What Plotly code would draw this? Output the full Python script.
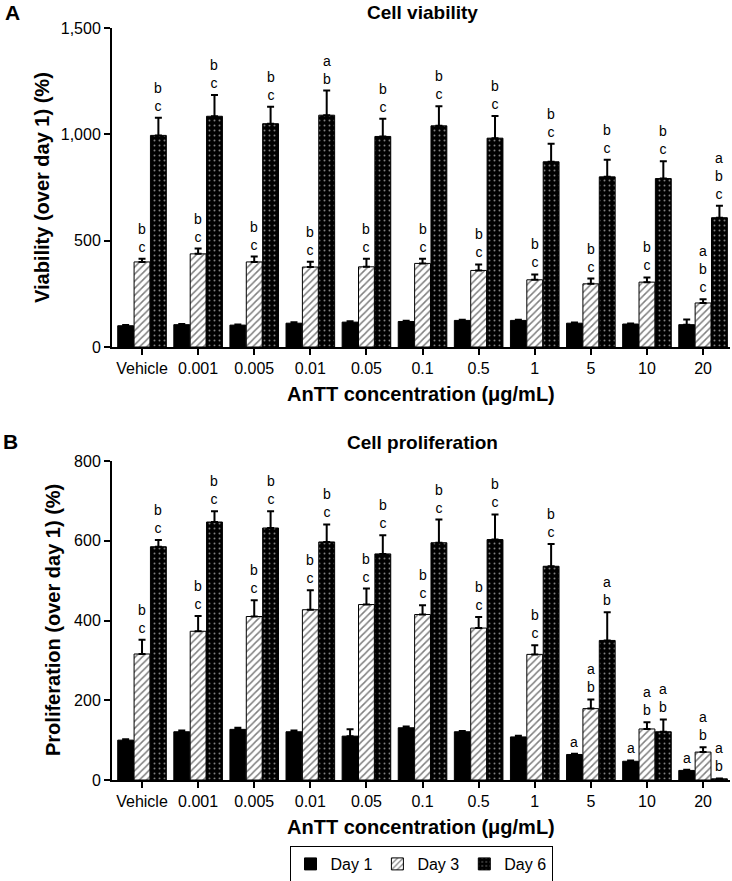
import plotly.graph_objects as go

categories = ["Vehicle", "0.001", "0.005", "0.01", "0.05", "0.1", "0.5", "1", "5", "10", "20"]
series_names = ["Day 1", "Day 3", "Day 6"]

# Panel A: Cell viability
via_day1 = [100, 105, 103, 112, 117, 120, 125, 125, 112, 108, 105]
via_day1_err = [3, 3, 3, 4, 4, 4, 3, 3, 3, 2, 24]
via_day3 = [400, 438, 400, 376, 377, 393, 360, 316, 297, 305, 207]
via_day3_err = [15, 25, 25, 25, 38, 22, 28, 25, 25, 22, 17]
via_day6 = [995, 1085, 1050, 1090, 990, 1040, 982, 871, 800, 792, 608]
via_day6_err = [83, 100, 80, 116, 83, 92, 104, 85, 80, 82, 56]
via_day1_lab = [""] * 11
via_day3_lab = ["b<br>c"] * 10 + ["a<br>b<br>c"]
via_day6_lab = ["b<br>c", "b<br>c", "b<br>c", "a<br>b", "b<br>c", "b<br>c",
                "b<br>c", "b<br>c", "b<br>c", "b<br>c", "a<br>b<br>c"]

# Panel B: Cell proliferation
pro_day1 = [100, 121, 127, 121, 110, 131, 121, 108, 64, 47, 24]
pro_day1_err = [2, 3, 4, 3, 17, 3, 2, 3, 2, 2, 2]
pro_day3 = [316, 373, 410, 427, 440, 415, 381, 315, 179, 128, 70]
pro_day3_err = [36, 38, 41, 49, 40, 23, 28, 23, 23, 17, 12]
pro_day6 = [585, 647, 632, 597, 567, 595, 603, 536, 350, 121, 3]
pro_day6_err = [17, 27, 42, 44, 47, 58, 63, 56, 71, 31, 1]
pro_day1_lab = [""] * 8 + ["a", "a", "a"]
pro_day3_lab = ["b<br>c"] * 8 + ["a<br>b"] * 3
pro_day6_lab = ["b<br>c"] * 8 + ["a<br>b"] * 3

via_ticks = [0, 500, 1000, 1500]
pro_ticks = [0, 200, 400, 600, 800]

FONT = "Liberation Sans, Arial, sans-serif"
W, H = 732, 881


def px_x(p):
    return p / W


def px_y(p):
    return (H - p) / H


PLOT_L, PLOT_R = 112, 730
BARGAP = 0.125
slot = (1 - BARGAP) / 3
offsets = [-slot, 0, slot]

styles = [
    dict(color="black", line=dict(color="black", width=1)),
    dict(color="white", line=dict(color="black", width=1),
         pattern=dict(shape="/", fgcolor="black", bgcolor="white", size=5, solidity=0.3, fillmode="overlay")),
    dict(color="black", line=dict(color="black", width=1),
         pattern=dict(shape=".", fgcolor="white", bgcolor="black", size=5, solidity=0.12, fillmode="overlay")),
]

fig = go.Figure()
annotations = []

panels = [
    ("x", "y", [via_day1, via_day3, via_day6], [via_day1_err, via_day3_err, via_day6_err],
     [via_day1_lab, via_day3_lab, via_day6_lab], True),
    ("x2", "y2", [pro_day1, pro_day3, pro_day6], [pro_day1_err, pro_day3_err, pro_day6_err],
     [pro_day1_lab, pro_day3_lab, pro_day6_lab], False),
]

for xa, ya, vals, errs, labs, showleg in panels:
    for k in range(3):
        fig.add_trace(go.Bar(
            x=categories, y=vals[k], name=series_names[k], xaxis=xa, yaxis=ya,
            marker=styles[k], showlegend=showleg, legendgroup=series_names[k],
            error_y=dict(type="data", array=errs[k], arrayminus=[0] * len(errs[k]),
                         symmetric=False, color="black", thickness=2, width=3.5),
        ))
        for i, lab in enumerate(labs[k]):
            if lab:
                annotations.append(dict(
                    x=i + offsets[k], y=vals[k][i] + errs[k][i], xref=xa, yref=ya,
                    text=lab, showarrow=False, yanchor="bottom", xanchor="center",
                    yshift=2, font=dict(family=FONT, size=14, color="black"),
                ))

axis_common = dict(showline=True, linecolor="black", linewidth=2, ticks="outside",
                   tickwidth=2, ticklen=6, tickcolor="black", showgrid=False, zeroline=False,
                   automargin=False,
                   tickfont=dict(family=FONT, size=16, color="black"))

xr = [-0.535, 10.48]
xdom = [px_x(PLOT_L), px_x(PLOT_R)]
fig.update_layout(
    width=W, height=H,
    margin=dict(l=0, r=0, t=0, b=0, autoexpand=False),
    paper_bgcolor="white", plot_bgcolor="white",
    barmode="group", bargap=BARGAP, bargroupgap=0.03,
    font=dict(family=FONT, color="black"),
    xaxis=dict(anchor="y", domain=xdom, range=xr, type="category", **axis_common),
    yaxis=dict(anchor="x", domain=[px_y(347), px_y(28)], range=[0, 1500], tickvals=via_ticks,
               tickformat=",", **axis_common),
    xaxis2=dict(anchor="y2", domain=xdom, range=xr, type="category", **axis_common),
    yaxis2=dict(anchor="x2", domain=[px_y(780), px_y(461)], range=[0, 800], tickvals=pro_ticks,
                **axis_common),
    legend=dict(orientation="h", x=px_x(421), xanchor="center", y=px_y(864), yanchor="middle",
                bordercolor="black", borderwidth=1, font=dict(family=FONT, size=16, color="black"),
                traceorder="normal"),
)

text_items = [
    ("A", 12, 12, 21, 0),
    ("B", 10, 441, 21, 0),
    ("Cell viability", 422, 12, 19, 0),
    ("Cell proliferation", 422, 442, 19, 0),
    ("AnTT concentration (μg/mL)", 421, 394, 20, 0),
    ("AnTT concentration (μg/mL)", 421, 827, 20, 0),
    ("Viability (over day 1) (%)", 42, 188, 20, -90),
    ("Proliferation (over day 1) (%)", 53, 620, 20, -90),
]
for txt, px, py, size, ang in text_items:
    annotations.append(dict(
        text=f"<b>{txt}</b>", x=px_x(px), y=px_y(py), xref="paper", yref="paper",
        showarrow=False, xanchor="center", yanchor="middle", textangle=ang,
        font=dict(family=FONT, size=size, color="black"),
    ))

fig.update_layout(annotations=annotations)
fig.write_html(
    "out.html",
    config={"displayModeBar": False},
    post_script="document.body.style.margin='0px';document.body.style.overflow='hidden';",
)
